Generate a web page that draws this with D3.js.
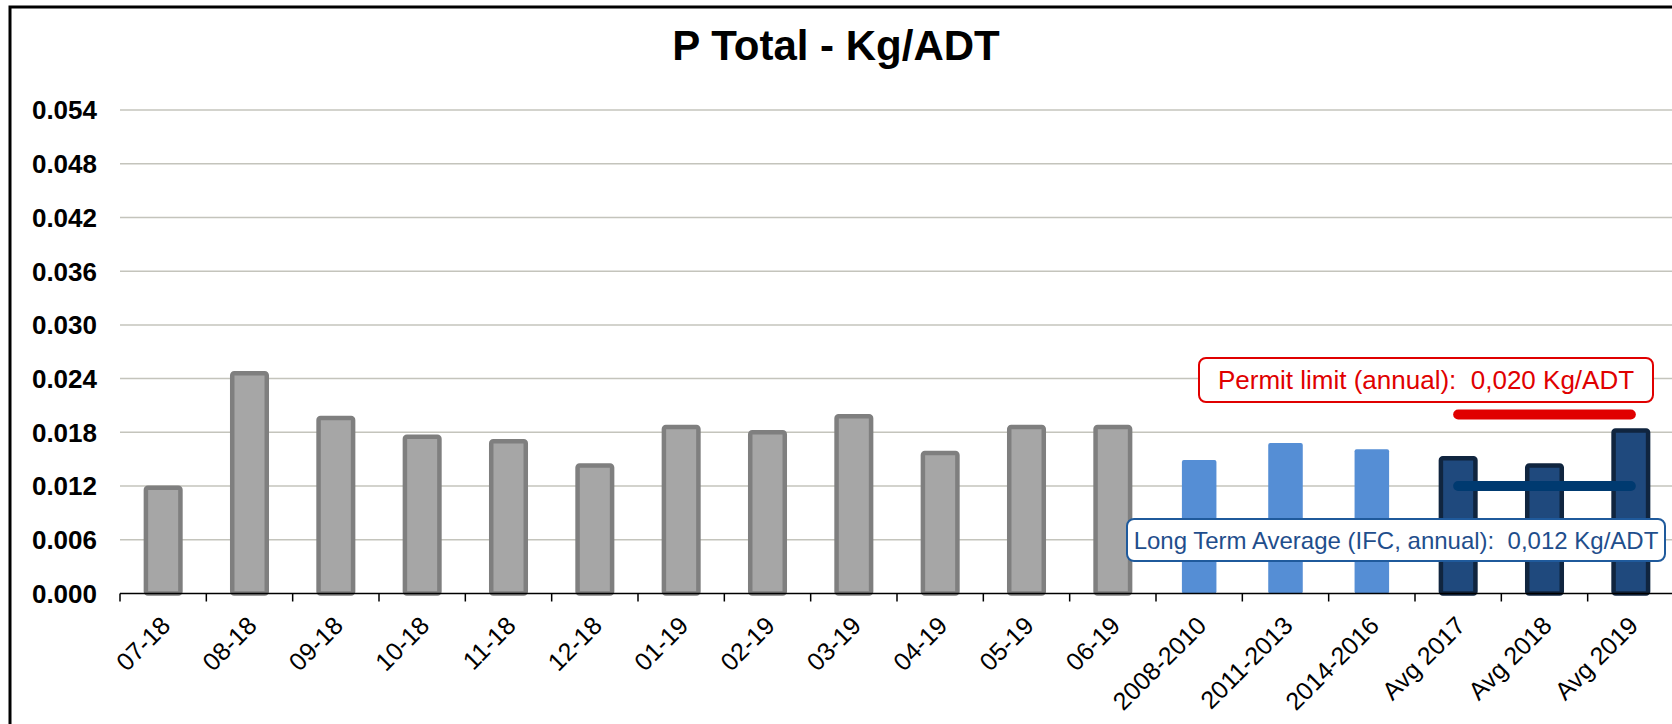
<!DOCTYPE html>
<html><head><meta charset="utf-8">
<script src="https://cdn.jsdelivr.net/npm/d3@7"></script>
<style>body{margin:0;background:#fff;} svg{display:block;font-family:Arial,"Liberation Sans",sans-serif;}</style>
</head><body>
<svg id="c" width="1672" height="724"></svg>
<script>
const categories = ["07-18","08-18","09-18","10-18","11-18","12-18","01-19","02-19","03-19","04-19","05-19","06-19","2008-2010","2011-2013","2014-2016","Avg 2017","Avg 2018","Avg 2019"];
const values = [0.0118,0.0246,0.0196,0.0175,0.0170,0.0143,0.0186,0.0180,0.0198,0.0157,0.0186,0.0186,0.0149,0.0168,0.0161,0.0151,0.0143,0.0182];
const groups = ["month","month","month","month","month","month","month","month","month","month","month","month","period","period","period","avg","avg","avg"];
const yTicks = [0,0.006,0.012,0.018,0.024,0.030,0.036,0.042,0.048,0.054];
const permitLimit = 0.020;
const longTermAvg = 0.012;
const refSpan = ["Avg 2017","Avg 2019"];
const permitLabel = "Permit limit (annual): \u00a00,020 Kg/ADT";
const ltaLabel = "Long Term Average (IFC, annual): \u00a00,012 Kg/ADT";
const title = "P Total - Kg/ADT";

const styles = {
  month: {fill:"#a6a6a6", stroke:"#7f7f7f", sw:4.5},
  period:{fill:"#558ed5", stroke:"none", sw:0},
  avg:   {fill:"#1f497d", stroke:"#10253f", sw:4.5}
};

const svg = d3.select("#c");
svg.append("rect").attr("x",10).attr("y",7).attr("width",1700).attr("height",740)
  .attr("fill","none").attr("stroke","#000").attr("stroke-width",3);

const x = d3.scaleBand().domain(categories).range([120,1674]).paddingInner(0).paddingOuter(0);
const y = d3.scaleLinear().domain([0,0.054]).range([593.5,110]);

svg.append("g").selectAll("line").data(yTicks.slice(1)).join("line")
  .attr("x1",120).attr("x2",1672).attr("y1",d=>y(d)).attr("y2",d=>y(d))
  .attr("stroke","#c4c4bc").attr("stroke-width",1.5);

svg.append("g").selectAll("text").data(yTicks).join("text")
  .attr("x",97).attr("y",d=>y(d)).attr("dy","0.36em").attr("text-anchor","end")
  .attr("font-size",26).attr("font-weight","bold").attr("fill","#000")
  .text(d=>d3.format(".3f")(d));

const bw = x.bandwidth()*0.40;
svg.append("g").selectAll("rect").data(categories).join("rect")
  .attr("x",(d)=>x(d)+x.bandwidth()/2-bw/2)
  .attr("y",(d,i)=>y(values[i]))
  .attr("width",bw)
  .attr("height",(d,i)=>y(0)-y(values[i]))
  .attr("rx",2)
  .attr("fill",(d,i)=>styles[groups[i]].fill)
  .attr("stroke",(d,i)=>styles[groups[i]].stroke)
  .attr("stroke-width",(d,i)=>styles[groups[i]].sw);

const xAxis = d3.axisBottom(x).tickSize(8).tickFormat("");
const ag = svg.append("g").attr("transform",`translate(0,${y(0)})`).call(xAxis);
ag.select(".domain").attr("stroke","#000").attr("stroke-width",1.5).attr("d",`M120,0H1672`);
ag.selectAll(".tick").attr("transform",d=>`translate(${x(d)},0)`);
ag.selectAll(".tick line").attr("stroke","#000").attr("stroke-width",1.5);

svg.append("g").selectAll("text").data(categories).join("text")
  .attr("transform",d=>`translate(${x(d)+x.bandwidth()/2-4},${y(0)+21}) rotate(-45)`)
  .attr("text-anchor","end").attr("dy","0.72em")
  .attr("font-size",25).attr("fill","#000")
  .text(d=>d);

const lx1 = x(refSpan[0])+x.bandwidth()/2, lx2 = x(refSpan[1])+x.bandwidth()/2;
svg.append("line").attr("x1",lx1).attr("x2",lx2).attr("y1",y(longTermAvg)).attr("y2",y(longTermAvg))
  .attr("stroke","#003a70").attr("stroke-width",10).attr("stroke-linecap","round");
svg.append("line").attr("x1",lx1).attr("x2",lx2).attr("y1",y(permitLimit)).attr("y2",y(permitLimit))
  .attr("stroke","#e00000").attr("stroke-width",10).attr("stroke-linecap","round");

function box(x0,y0,w,h,stroke,color,txt,fs){
  svg.append("rect").attr("x",x0).attr("y",y0).attr("width",w).attr("height",h).attr("rx",7)
    .attr("fill","#fff").attr("stroke",stroke).attr("stroke-width",2);
  svg.append("text").attr("x",x0+w/2).attr("y",y0+h/2).attr("dy","0.36em").attr("text-anchor","middle")
    .attr("font-size",fs).attr("fill",color).text(txt);
}
box(1199,358,454,44,"#e00000","#e00000",permitLabel,26);
box(1127,519,538,42,"#1f5a9c","#1f4e8c",ltaLabel,24);

svg.append("text").attr("x",836).attr("y",60).attr("text-anchor","middle")
  .attr("font-size",42).attr("font-weight","bold").attr("fill","#000").text(title);
</script>
</body></html>
